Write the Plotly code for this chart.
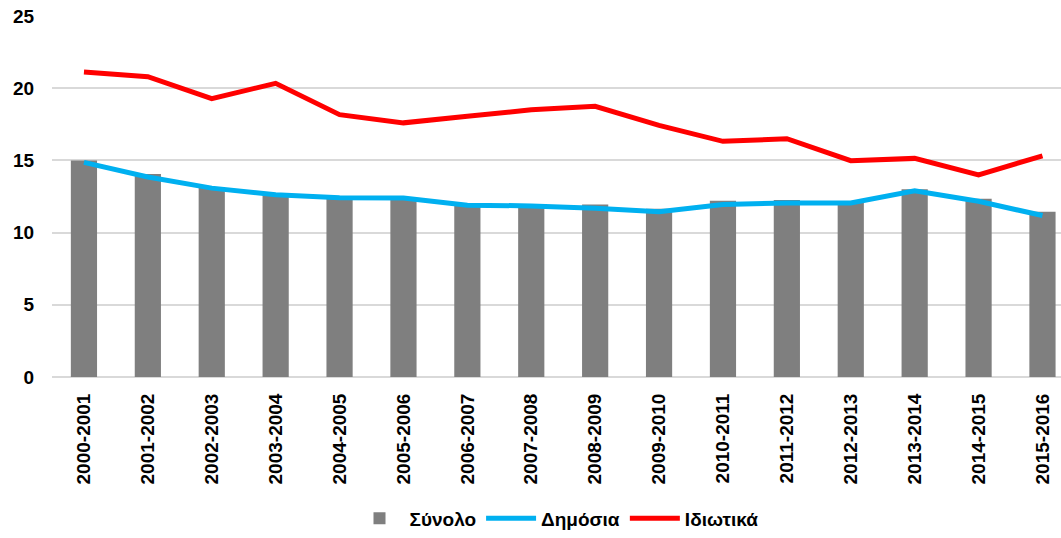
import plotly.graph_objects as go

years = ["2000-2001", "2001-2002", "2002-2003", "2003-2004", "2004-2005", "2005-2006",
         "2006-2007", "2007-2008", "2008-2009", "2009-2010", "2010-2011", "2011-2012",
         "2012-2013", "2013-2014", "2014-2015", "2015-2016"]
synolo = [15.0, 14.05, 13.1, 12.6, 12.45, 12.4, 12.0, 11.85, 11.95, 11.65,
          12.2, 12.25, 12.1, 13.0, 12.35, 11.45]
dimosia = [14.86, 13.85, 13.08, 12.62, 12.42, 12.4, 11.9, 11.85, 11.68, 11.45,
           11.95, 12.05, 12.05, 12.9, 12.17, 11.18]
idiotika = [21.12, 20.8, 19.28, 20.34, 18.17, 17.6, 18.05, 18.5, 18.75, 17.42,
            16.32, 16.5, 14.98, 15.14, 13.99, 15.32]
y_ticks = [0, 5, 10, 15, 20, 25]

FONT = "Liberation Sans"
fig = go.Figure()
fig.add_trace(go.Bar(x=years, y=synolo, name="Σύνολο", width=0.41,
                     marker=dict(color="#7f7f7f", line=dict(width=0))))
fig.add_trace(go.Scatter(x=years, y=dimosia, name="Δημόσια", mode="lines",
                         line=dict(color="#00b0f0", width=5)))
fig.add_trace(go.Scatter(x=years, y=idiotika, name="Ιδιωτικά", mode="lines",
                         line=dict(color="#ff0000", width=5)))

fig.update_layout(
    width=1061, height=538,
    margin=dict(l=52, r=0, t=16, b=157),
    paper_bgcolor="white", plot_bgcolor="white",
    font=dict(family=FONT, color="black"),
    showlegend=True,
    legend=dict(orientation="h", x=0.5, xanchor="center", y=-0.392, yanchor="middle",
                font=dict(family=FONT, size=19, weight="bold", color="black"),
                traceorder="normal", itemwidth=50),
)
fig.update_xaxes(
    type="category", range=[-0.5, 15.29], tickangle=-90,
    tickfont=dict(family=FONT, size=19, weight="bold", color="black"),
    ticks="outside", ticklen=8, tickcolor="rgba(0,0,0,0)",
    showgrid=False, showline=False, zeroline=False,
)
fig.update_yaxes(
    range=[0, 25], tickvals=y_ticks, ticklabeloverflow="allow",
    tickfont=dict(family=FONT, size=19, weight="bold", color="black"),
    ticks="outside", ticklen=13, tickcolor="rgba(0,0,0,0)",
    showgrid=True, gridcolor="#d9d9d9", gridwidth=2,
    zeroline=True, zerolinecolor="#d9d9d9", zerolinewidth=2, showline=False,
)

fig.write_html(
    "out.html",
    config={"displayModeBar": False},
    post_script="document.body.style.margin='0';document.documentElement.style.overflow='hidden';",
)
